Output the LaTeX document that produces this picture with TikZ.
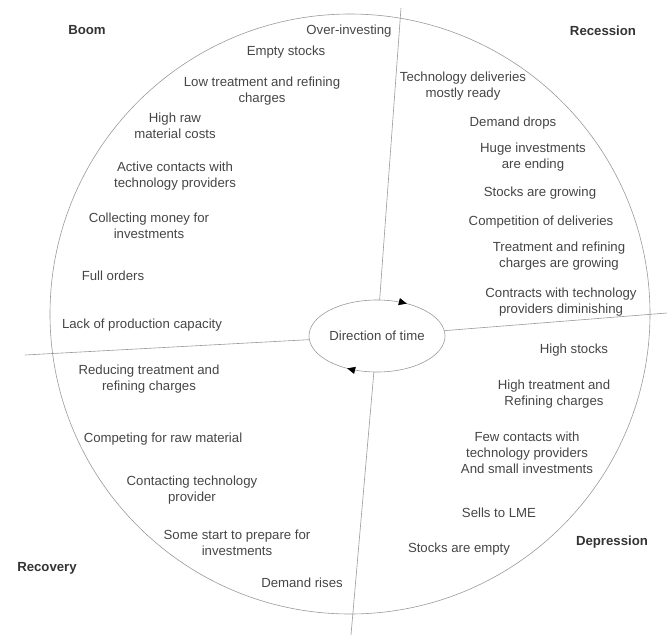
\documentclass[tikz,border=0pt]{standalone}
\usepackage{fontspec}
\setmainfont{Liberation Sans}
\usepackage{tikz}
\usetikzlibrary{calc,shapes,arrows.meta}
\usetikzlibrary{decorations.markings}
\definecolor{txtgray}{HTML}{454545}
\definecolor{linegray}{HTML}{9A9A9A}

\begin{document}
\begin{tikzpicture}[x=1pt,y=-1pt,
    event/.style={align=center,text=txtgray,font=\fontsize{13.2}{16}\selectfont,inner sep=1pt},
    phase/.style={text=black!80,font=\fontsize{13.2}{16}\selectfont\bfseries,inner sep=1pt},
    thin line/.style={draw=linegray,line width=0.6pt}]
    \useasboundingbox (0,0) rectangle (667,637);
    % the big circle and the time ellipse
    \draw[thin line] (350,314) circle [radius=300pt];
    \node at (377,336) [event,ellipse,minimum width=136pt,minimum height=72pt,inner sep=0pt] (time) {Direction of time};
    \draw[thin line,postaction={decorate},
      decoration={markings,
        mark=at position 0.16 with {\arrowreversed{Triangle[length=8pt,width=7pt,color=black]}},
        mark=at position 0.66 with {\arrowreversed{Triangle[length=8pt,width=7pt,color=black]}}}]
      (time.center) ellipse [x radius=68pt,y radius=36pt];
    %% the four dividing lines
    \coordinate (ntop) at (401,8);
    \coordinate (nbot) at (351,635);
    \coordinate (wleft) at (25,355);
    \coordinate (eright) at (667,313);
    \draw[thin line] (ntop) -- (time);
    \draw[thin line] (nbot) -- (time);
    \draw[thin line] (wleft) -- (time);
    \draw[thin line] (eright) -- (time);
    % phases
    \node at (87,30) [phase] (boom) {Boom};
    \node at (603,31) [phase] (recession) {Recession};
    \node at (47,568) [phase] (recovery) {Recovery};
    \node at (612,542) [phase] (depression) {Depression};
    % boom
    \node at (349,31) [event] (over) {Over-investing};
    \node at (286,52) [event] (emptystocks) {Empty stocks};
    \node at (262,91) [event] (lowtc) {Low treatment and refining\\charges};
    \node at (175,126) [event] (highraw) {High raw\\material costs};
    \node at (175,176) [event] (activecon) {Active contacts with\\technology providers};
    \node at (149,226) [event] (collect) {Collecting money for\\investments};
    \node at (113,276) [event] (fullord) {Full orders};
    \node at (142,325) [event] (lackcap) {Lack of production capacity};
    % recession
    \node at (463,86) [event] (techdel) {Technology deliveries\\mostly ready};
    \node at (513,123) [event] (dropdem) {Demand drops};
    \node at (533,157) [event] (hugeinv) {Huge investments\\are ending};
    \node at (540,193) [event] (stockgrow) {Stocks are growing};
    \node at (541,222) [event] (compdel) {Competition of deliveries};
    \node at (559,256) [event] (tcgrow) {Treatment and refining\\charges are growing};
    \node at (561,302) [event] (contrdim) {Contracts with technology\\providers diminishing};
    % depression
    \node at (574,350) [event] (highst) {High stocks};
    \node at (554,394) [event] (hightc) {High treatment and\\Refining charges};
    \node at (527,453) [event] (fewcon) {Few contacts with\\technology providers\\And small investments};
    \node at (499,513) [event] (lme) {Sells to LME};
    \node at (459,549) [event] (stempty) {Stocks are empty};
    % recovery
    \node at (149,379) [event] (redtc) {Reducing treatment and\\refining charges};
    \node at (163,439) [event] (comprm) {Competing for raw material};
    \node at (192,490) [event] (contact) {Contacting technology\\provider};
    \node at (237,543) [event] (prepinv) {Some start to prepare for\\investments};
    \node at (302,583) [event] (demrise) {Demand rises};
\end{tikzpicture}
\end{document}
